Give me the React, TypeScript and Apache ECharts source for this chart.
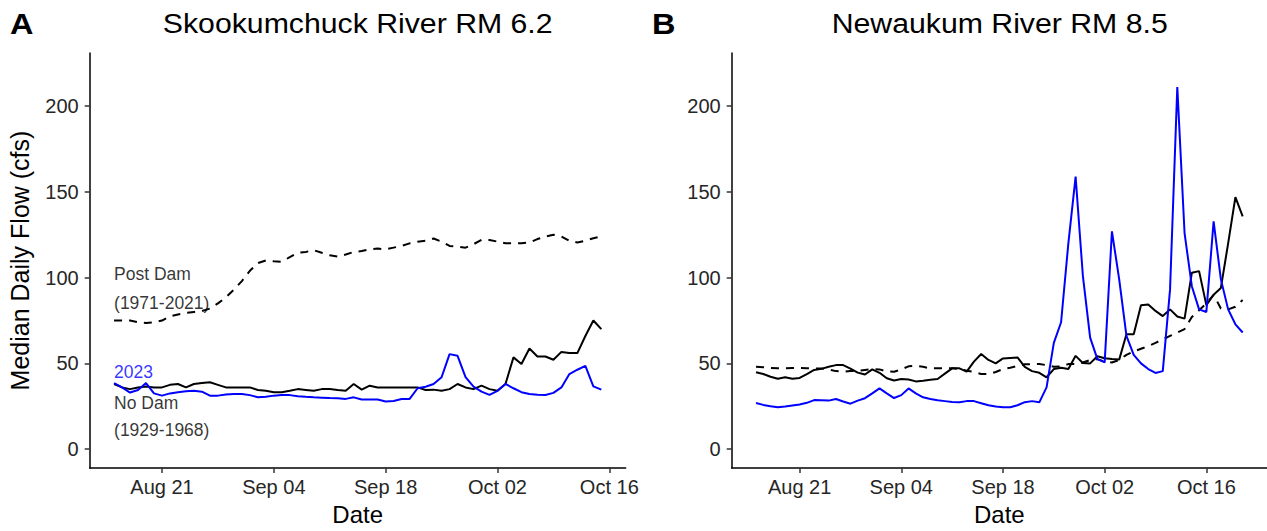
import { useEffect, useRef } from 'react';
import * as echarts from 'echarts';

// ---- Data: median daily flow (cfs), one value per day ----
const DAY = 86400000;

// Skookumchuck River RM 6.2, daily from Aug 15 to Oct 15
const skookStart = '2023-08-15';
const skookPostDam = [
  75, 75, 75, 74, 73.5, 74, 75, 77.5, 78.5, 79.5, 80, 80.5, 82, 85, 88.5, 93, 98, 104, 108.5, 110,
  109.5, 109.3, 112, 114.5, 115, 116, 114.5, 113, 112.3, 113.5, 115, 115.5, 116.5, 117, 116.5, 117.5,
  118.5, 120, 121, 121.5, 122.8, 121, 118.5, 118, 117.5, 119.5, 122, 122, 121, 120, 120, 120, 120.5,
  122.5, 124, 125, 124, 121.5, 120.5, 121.5, 123, 124,
];
const skookNoDam = [
  38, 36, 35, 36, 36.5, 36, 36, 37.5, 38, 36, 38, 38.5, 39, 37.5, 36, 36, 36, 36, 34.5, 34,
  33.2, 33.2, 34, 35, 34.5, 34, 35, 35, 34.5, 34.1, 38, 34.7, 37, 36, 36, 36, 36, 36, 36, 34.5,
  34.7, 34.1, 35, 38, 36, 35, 37, 35, 34.1, 38, 53.5, 49.6, 58.7, 54, 54, 52.1, 56.7, 56, 56, 66,
  75, 70,
];
const skook2023 = [
  38.5, 36, 33, 34.5, 38.5, 32.5, 31.2, 32.5, 33.2, 33.8, 34, 33.5, 31.2, 31.2, 31.8, 32.2, 32.2,
  31.5, 30.3, 30.5, 31.2, 31.5, 31.5, 30.9, 30.5, 30.2, 30, 29.8, 29.7, 29.3, 30.2, 28.9, 28.9,
  28.9, 27.8, 28.1, 29.2, 29.3, 35.5, 36.4, 38, 41.9, 55.4, 54.4, 42, 36.5, 33.5, 31.6, 34, 38,
  35.5, 33.2, 32.2, 31.7, 31.6, 32.8, 36, 43.8, 46.3, 48.6, 36.6, 34.7,
];

// Newaukum River RM 8.5, daily from Aug 15 to Oct 21
const newaukStart = '2023-08-15';
const newaukPostDam = [
  48, 47.8, 47.3, 47.1, 47.1, 47.3, 47.3, 47.1, 47.1, 47, 46.5, 45.5, 45.1, 45.5, 45.7, 46.2, 46.7,
  46.5, 45.3, 45.1, 46.5, 48.3, 48.6, 48, 47.1, 47.1, 47.1, 47.1, 46.8, 45.7, 45, 43.8, 43.8, 45,
  46.7, 47.5, 48.5, 49.5, 49.6, 49.6, 49, 48, 48.2, 49.6, 49.6, 50.5, 52, 52.5, 51, 50.5, 52, 55,
  57, 58.5, 60, 62, 64, 66, 68, 70, 77, 81, 85, 90, 82, 81.5, 83, 87,
];
const newaukNoDam = [
  44.8, 43.8, 42.2, 41, 41.9, 41, 41.5, 43.8, 46.2, 46.8, 48, 49, 49, 47, 44.6, 43.5, 46.5, 44.5,
  41.3, 40, 40.9, 40.6, 39.5, 39.9, 40.5, 40.9, 44, 47.1, 47.1, 45.2, 51, 55.5, 52, 50, 52.9, 53.2,
  53.5, 48, 45.5, 44.5, 41.9, 46.7, 47.5, 46.7, 54.4, 50.2, 50, 54.2, 53, 52.5, 52.2, 67, 67, 83.9,
  84.4, 80.6, 77.6, 81.5, 77.3, 76.1, 102.8, 103.8, 84, 90, 94, 120, 147, 135.7,
];
const newauk2023 = [
  26.9, 25.8, 25, 24.4, 24.8, 25.4, 26, 27, 28.6, 28.5, 28.3, 29.2, 27.8, 26.5, 28.3, 29.7, 32.5,
  35.4, 32.5, 29.8, 31.5, 35.4, 32.5, 30.2, 29.2, 28.5, 28, 27.5, 27.3, 28, 28, 26.8, 25.6, 24.8,
  24.4, 24.4, 25.6, 27.4, 28, 27.3, 36, 62, 74, 120, 158.9, 101, 65, 52.5, 50.6, 127, 99, 66, 55,
  50, 46.7, 44.4, 45.5, 93, 211.2, 126, 95, 81.5, 80, 132.8, 99, 81.5, 72.8, 68,
];

// Axis ticks and limits
const dateTicks = ['2023-08-21', '2023-09-04', '2023-09-18', '2023-10-02', '2023-10-16'];
const flowTicks = [0, 50, 100, 150, 200];
const flowLimits = [0, 220];

// Labels written inside the Skookumchuck panel, at the first day
const skookNotes = [
  { text: 'Post Dam', flow: 102, color: '#000000' },
  { text: '(1971-2021)', flow: 85, color: '#000000' },
  { text: '2023', flow: 45, color: '#0000FF' },
  { text: 'No Dam', flow: 27, color: '#000000' },
  { text: '(1929-1968)', flow: 11, color: '#000000' },
];

const MONTHS = ['Jan', 'Feb', 'Mar', 'Apr', 'May', 'Jun', 'Jul', 'Aug', 'Sep', 'Oct', 'Nov', 'Dec'];

const toTs = (iso: string) => {
  const [y, m, d] = iso.split('-').map(Number);
  return Date.UTC(y, m - 1, d);
};

const fmtDate = (v: number) => {
  const d = new Date(Math.round(v / DAY) * DAY);
  return `${MONTHS[d.getUTCMonth()]} ${String(d.getUTCDate()).padStart(2, '0')}`;
};

const toPairs = (start: string, values: number[]) => {
  const s = toTs(start);
  return values.map((v, i) => [s + i * DAY, v]);
};

// ggplot-style 5% expansion on each side of the data range
const padded = (lo: number, hi: number) => {
  const pad = (hi - lo) * 0.05;
  return [lo - pad, hi + pad];
};

const dateRange = (start: string, n: number) => {
  const s = toTs(start);
  return padded(s, s + (n - 1) * DAY);
};

const FONT = 'Liberation Sans, Arial, sans-serif';
const tickTs = dateTicks.map(toTs);
const flowRange = padded(flowLimits[0], flowLimits[1]);

const GRID_TOP = 53;
const GRID_H = 416.3;
const GRID_W = 536;
const GRID_LEFT = [89.7, 731.7];

const makeX = (gridIndex: number, range: number[]) => ({
  type: 'value',
  gridIndex,
  min: range[0],
  max: range[1],
  name: 'Date',
  nameLocation: 'middle',
  nameGap: 34,
  nameTextStyle: { fontSize: 24, color: '#000', fontFamily: FONT },
  axisLine: { show: true, onZero: false, lineStyle: { color: '#000', width: 1.5 } },
  axisTick: { show: true, length: 5, customValues: tickTs, lineStyle: { color: '#333', width: 1.5 } },
  axisLabel: {
    customValues: tickTs,
    formatter: fmtDate,
    fontSize: 20,
    color: '#262626',
    margin: 9,
    fontFamily: FONT,
  },
  splitLine: { show: false },
});

const makeY = (gridIndex: number, withName: boolean) => ({
  type: 'value',
  gridIndex,
  min: flowRange[0],
  max: flowRange[1],
  name: withName ? 'Median Daily Flow (cfs)' : '',
  nameLocation: 'middle',
  nameGap: 57,
  nameTextStyle: { fontSize: 25, color: '#000', fontFamily: FONT },
  axisLine: { show: true, onZero: false, lineStyle: { color: '#000', width: 1.5 } },
  axisTick: { show: true, length: 5, customValues: flowTicks, lineStyle: { color: '#333', width: 1.5 } },
  axisLabel: { customValues: flowTicks, fontSize: 20, color: '#262626', margin: 11, fontFamily: FONT },
  splitLine: { show: false },
});

const lineSeries = (axis: number, data: number[][], color: string, dashed: boolean) => ({
  type: 'line',
  xAxisIndex: axis,
  yAxisIndex: axis,
  data,
  symbol: 'none',
  silent: true,
  lineStyle: { color, width: 2, type: dashed ? [8, 7] : 'solid' },
});

export default function App() {
  const ref = useRef<HTMLDivElement>(null);

  useEffect(() => {
    if (!ref.current) return;
    const chart = echarts.init(ref.current, null, { renderer: 'svg' });
    const skookX0 = toTs(skookStart);

    chart.setOption({
      animation: false,
      backgroundColor: '#ffffff',
      textStyle: { fontFamily: FONT },
      grid: GRID_LEFT.map((left) => ({ left, top: GRID_TOP, width: GRID_W, height: GRID_H })),
      xAxis: [
        makeX(0, dateRange(skookStart, skookPostDam.length)),
        makeX(1, dateRange(newaukStart, newaukPostDam.length)),
      ],
      yAxis: [makeY(0, true), makeY(1, false)],
      series: [
        lineSeries(0, toPairs(skookStart, skookPostDam), '#000000', true),
        lineSeries(0, toPairs(skookStart, skookNoDam), '#000000', false),
        lineSeries(0, toPairs(skookStart, skook2023), '#0000FF', false),
        lineSeries(1, toPairs(newaukStart, newaukPostDam), '#000000', true),
        lineSeries(1, toPairs(newaukStart, newaukNoDam), '#000000', false),
        lineSeries(1, toPairs(newaukStart, newauk2023), '#0000FF', false),
        {
          type: 'scatter',
          xAxisIndex: 0,
          yAxisIndex: 0,
          symbolSize: 0,
          silent: true,
          data: skookNotes.map((n) => ({
            value: [skookX0, n.flow],
            label: {
              show: true,
              position: 'right',
              distance: 0,
              formatter: n.text,
              color: n.color,
              fontSize: 17.5,
              fontFamily: FONT,
            },
          })),
        },
      ],
      graphic: [
        {
          type: 'text',
          x: 10,
          y: 24,
          scaleX: 1.12,
          style: { text: 'A', fontSize: 29, fontWeight: 'bold', fill: '#000', verticalAlign: 'middle', fontFamily: FONT },
        },
        {
          type: 'text',
          x: 652,
          y: 24,
          scaleX: 1.12,
          style: { text: 'B', fontSize: 29, fontWeight: 'bold', fill: '#000', verticalAlign: 'middle', fontFamily: FONT },
        },
        {
          type: 'text',
          x: GRID_LEFT[0] + GRID_W / 2,
          y: 23,
          scaleX: 1.1,
          style: {
            text: 'Skookumchuck River RM 6.2',
            fontSize: 27.5,
            fill: '#000',
            align: 'center',
            verticalAlign: 'middle',
            fontFamily: FONT,
          },
        },
        {
          type: 'text',
          x: GRID_LEFT[1] + GRID_W / 2,
          y: 23,
          scaleX: 1.1,
          style: {
            text: 'Newaukum River RM 8.5',
            fontSize: 27.5,
            fill: '#000',
            align: 'center',
            verticalAlign: 'middle',
            fontFamily: FONT,
          },
        },
      ],
    });

    return () => chart.dispose();
  }, []);

  return (
    <div
      ref={ref}
      style={{ position: 'absolute', left: 0, top: 0, width: 1267, height: 531, background: '#fff' }}
    />
  );
}
